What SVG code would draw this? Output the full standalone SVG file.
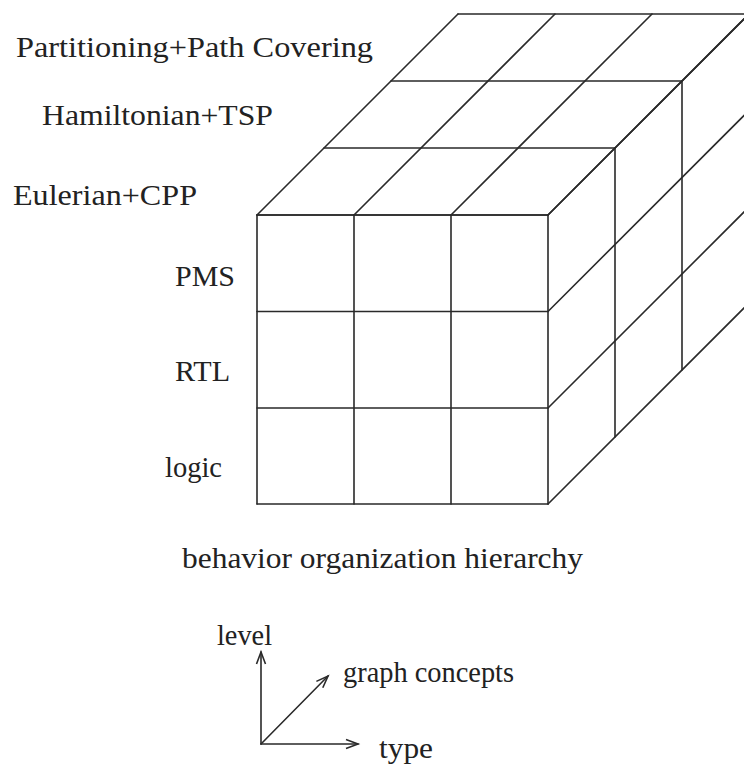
<svg xmlns="http://www.w3.org/2000/svg" width="744" height="769" viewBox="0 0 744 769">
<style>
.ln{stroke:#2a2a2a;stroke-width:1.6;fill:none;stroke-linecap:round}
.t{font-family:'Liberation Serif','DejaVu Serif',serif;font-size:30px;fill:#222}
</style>
<defs>
<marker id="ah" markerUnits="userSpaceOnUse" markerWidth="16" markerHeight="12" refX="13" refY="6" orient="auto" viewBox="0 0 16 12">
<path d="M1,1.5 L13,6 L1,10.5" fill="none" stroke="#2a2a2a" stroke-width="1.6"/>
</marker>
</defs>
<rect width="744" height="769" fill="#fff"/>
<g id="cube">
<g id="top-face" class="ln">
<path d="M257,215 H548 M324,148 H615 M391,81 H682 M458,14 H749"/>
<path d="M257,215 L458,14 M354,215 L555,14 M451,215 L652,14 M548,215 L749,14"/>
</g>
<g id="front-face" class="ln">
<path d="M257,215 H548 M257,311.5 H548 M257,408 H548 M257,504 H548"/>
<path d="M257,215 V504 M354,215 V504 M451,215 V504 M548,215 V504"/>
</g>
<g id="right-face" class="ln">
<path d="M548,215 L749,14 M548,311.5 L749,110.5 M548,408 L749,207 M548,504 L749,303"/>
<path d="M615,148 V437 M682,81 V370"/>
</g>
</g>
<g id="labels">
<text class="t" id="lbl-partitioning" x="16" y="57" textLength="357" lengthAdjust="spacingAndGlyphs">Partitioning+Path Covering</text>
<text class="t" id="lbl-hamiltonian" x="42" y="125" textLength="231" lengthAdjust="spacingAndGlyphs">Hamiltonian+TSP</text>
<text class="t" id="lbl-eulerian" x="13" y="205" textLength="184" lengthAdjust="spacingAndGlyphs">Eulerian+CPP</text>
<text class="t" id="lbl-pms" x="175" y="286" textLength="60" lengthAdjust="spacingAndGlyphs">PMS</text>
<text class="t" id="lbl-rtl" x="175" y="381" textLength="55" lengthAdjust="spacingAndGlyphs">RTL</text>
<text class="t" id="lbl-logic" x="165" y="477" textLength="57" lengthAdjust="spacingAndGlyphs">logic</text>
<text class="t" id="lbl-boh" x="182" y="568" textLength="401" lengthAdjust="spacingAndGlyphs">behavior organization hierarchy</text>
</g>
<g id="legend">
<g id="axes" class="ln">
<path d="M261,744 V652" marker-end="url(#ah)"/>
<path d="M261,744 H358" marker-end="url(#ah)"/>
<path d="M261,744 L328,676" marker-end="url(#ah)"/>
</g>
<g>
<text class="t" id="lbl-level" x="217" y="645" textLength="55" lengthAdjust="spacingAndGlyphs">level</text>
<text class="t" id="lbl-graph" x="343" y="682" textLength="171" lengthAdjust="spacingAndGlyphs">graph concepts</text>
<text class="t" id="lbl-type" x="379" y="758" textLength="54" lengthAdjust="spacingAndGlyphs">type</text>
</g>
</g>
</svg>
